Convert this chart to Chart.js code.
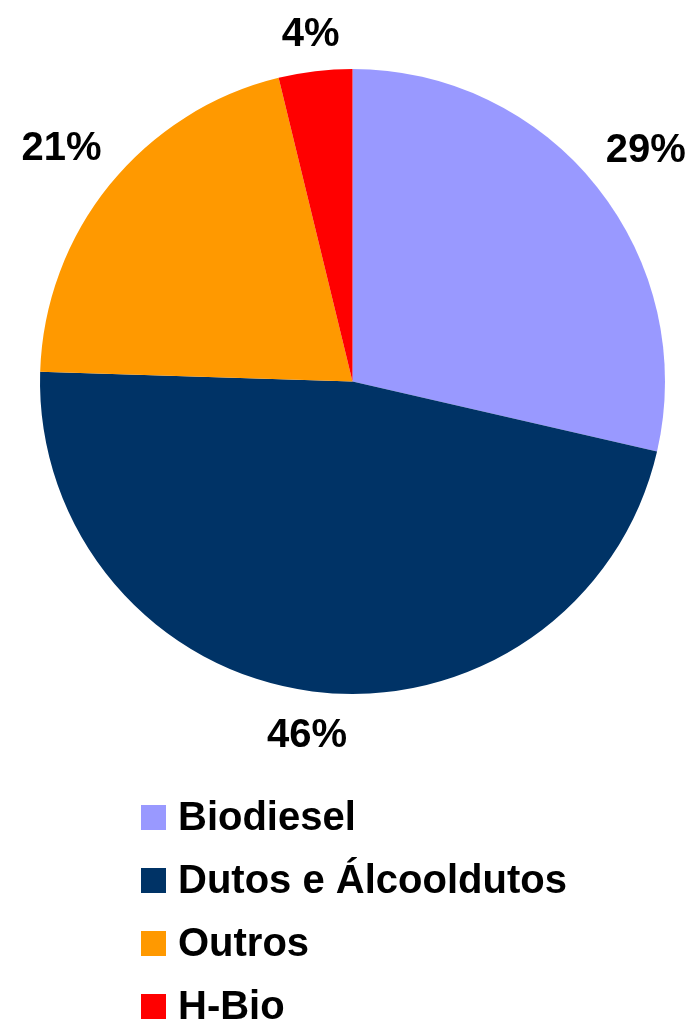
<!DOCTYPE html>
<html>
<head>
<meta charset="utf-8">
<script src="https://cdn.jsdelivr.net/npm/chart.js@4/dist/chart.umd.min.js"></script>
<style>
  html, body { margin: 0; padding: 0; background: #fff; }
  #wrap { position: relative; width: 697px; height: 1020px; }
</style>
</head>
<body>
<div id="wrap"><canvas id="pieChart"></canvas></div>
<script>
const categorias = ['Biodiesel', 'Dutos e Álcooldutos', 'Outros', 'H-Bio'];
const valores = [28.6, 46.9, 20.7, 3.8];
const rotulos = ['29%', '46%', '21%', '4%'];
const cores = ['#9999FF', '#003366', '#FF9900', '#FF0000'];

const fonte = 'bold 40px "Liberation Sans", Arial, sans-serif';

// rótulos de porcentagem fora da pizza
const rotulosPlugin = {
  id: 'rotulos',
  afterDatasetsDraw(chart) {
    const ctx = chart.ctx;
    const meta = chart.getDatasetMeta(0);
    ctx.save();
    ctx.font = fonte;
    ctx.fillStyle = '#000';
    ctx.textAlign = 'center';
    ctx.textBaseline = 'alphabetic';
    meta.data.forEach((arc, i) => {
      const p = arc.getProps(['x', 'y', 'startAngle', 'endAngle', 'outerRadius'], true);
      const meio = (p.startAngle + p.endAngle) / 2;
      const texto = rotulos[i];
      const w = ctx.measureText(texto).width;
      const h = 29;
      const c = Math.cos(meio), s = Math.sin(meio);
      const dist = p.outerRadius + 22 + Math.abs(c) * w / 2 + Math.abs(s) * h / 2;
      const x = p.x + c * dist;
      const y = p.y + s * dist;
      ctx.fillText(texto, x, y + 14.3);
    });
    ctx.restore();
  }
};

// legenda vertical embaixo
const legendaPlugin = {
  id: 'legenda',
  afterDraw(chart) {
    const ctx = chart.ctx;
    ctx.save();
    ctx.font = fonte;
    ctx.textAlign = 'left';
    ctx.textBaseline = 'alphabetic';
    categorias.forEach((nome, i) => {
      const topo = 805 + i * 63;
      ctx.fillStyle = cores[i];
      ctx.fillRect(141, topo, 25, 25);
      ctx.fillStyle = '#000';
      ctx.fillText(nome, 178, topo + 25);
    });
    ctx.restore();
  }
};

const ctx = document.getElementById('pieChart').getContext('2d');
const pieChart = new Chart(ctx, {
  type: 'pie',
  data: {
    labels: categorias,
    datasets: [{
      data: valores,
      backgroundColor: cores,
      borderWidth: 0
    }]
  },
  options: {
    responsive: true,
    maintainAspectRatio: false,
    animation: false,
    layout: { padding: { left: 40, right: 32, top: 69, bottom: 326 } },
    plugins: {
      legend: { display: false },
      tooltip: { enabled: false }
    }
  },
  plugins: [rotulosPlugin, legendaPlugin]
});
</script>
</body>
</html>
